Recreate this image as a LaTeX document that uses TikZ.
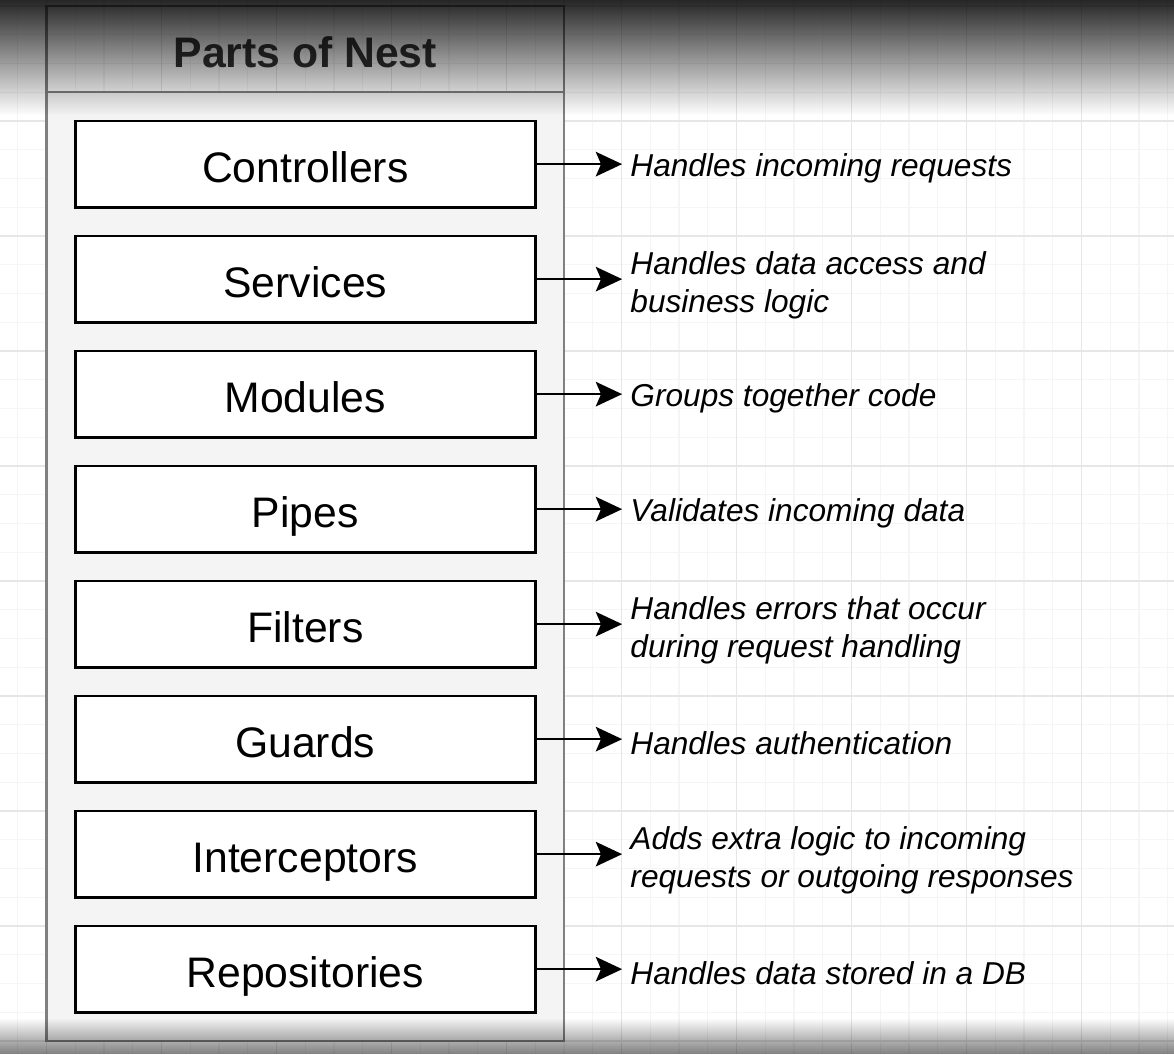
\documentclass[tikz,border=0pt]{standalone}
\usepackage{fontspec}
\setmainfont{Liberation Sans}
\usetikzlibrary{arrows.meta,fadings}
\definecolor{gridminor}{HTML}{F5F5F5}
\definecolor{gridmajor}{HTML}{E6E6E6}
\definecolor{lanefill}{HTML}{F4F4F4}
\definecolor{laneline}{HTML}{808080}
\begin{document}
\begin{tikzpicture}[
    x=0.575cm, y=-0.575cm,
    part/.style={rectangle,draw=black,line width=1.5pt,fill=white,
        minimum width=9.2cm,minimum height=1.725cm,outer sep=0pt,
        text height=22pt,text depth=1pt,
        font=\fontsize{24.3}{28}\selectfont},
    note/.style={anchor=west,align=left,inner sep=0pt,
        font=\fontsize{18}{21.6}\selectfont\itshape},
    link/.style={-{Stealth[length=15pt,width=14pt,inset=3pt]},line width=1.1pt}
]
\useasboundingbox (-1.617,-0.209) rectangle (39.217,36.452);
\fill[white] (-1.617,-0.209) rectangle (39.217,36.452);

% canvas grid
\foreach \i in {-1,...,39} \draw[gridminor,line width=0.6pt] (\i,-0.209) -- (\i,36.452);
\foreach \j in {0,...,36} \draw[gridminor,line width=0.6pt] (-1.617,\j) -- (39.217,\j);
\foreach \i in {0,4,...,36} \draw[gridmajor,line width=0.7pt] (\i,-0.209) -- (\i,36.452);
\foreach \j in {0,4,...,36} \draw[gridmajor,line width=0.7pt] (-1.617,\j) -- (39.217,\j);

% container
\fill[lanefill] (0,3) rectangle (18,36);
\draw[laneline,line width=1.2pt] (0,0) rectangle (18,36);
\draw[laneline,line width=1.2pt] (0,3) -- (18,3);
\node[font=\fontsize{24.3}{28}\selectfont\bfseries,text=black!80] (title) at (9,1.6) {Parts of Nest};

\node[part] (ctrl)  at (9,5.5)  {Controllers};
\node[part] (serv)  at (9,9.5)  {Services};
\node[part] (mods)  at (9,13.5) {Modules};
\node[part] (pipe)  at (9,17.5) {Pipes};
\node[part] (filt)  at (9,21.5) {Filters};
\node[part] (guard) at (9,25.5) {Guards};
\node[part] (icpt)  at (9,29.5) {Interceptors};
\node[part] (repo)  at (9,33.5) {Repositories};

\node[note] (ctrlN)  at (20.3,5.65)  {Handles incoming requests};
\node[note] (servN)  at (20.3,9.7)   {Handles data access and\\business logic};
\node[note] (modsN)  at (20.3,13.65) {Groups together code};
\node[note] (pipeN)  at (20.3,17.65) {Validates incoming data};
\node[note] (filtN)  at (20.3,21.7)  {Handles errors that occur\\during request handling};
\node[note] (guardN) at (20.3,25.65) {Handles authentication};
\node[note] (icptN)  at (20.3,29.7)  {Adds extra logic to incoming\\requests or outgoing responses};
\node[note] (repoN)  at (20.3,33.65) {Handles data stored in a DB};

\draw[link] (ctrl)  -- ([xshift=-0.16cm]ctrl -| ctrlN.west);
\draw[link] (serv)  -- ([xshift=-0.16cm]serv -| servN.west);
\draw[link] (mods)  -- ([xshift=-0.16cm]mods -| modsN.west);
\draw[link] (pipe)  -- ([xshift=-0.16cm]pipe -| pipeN.west);
\draw[link] (filt)  -- ([xshift=-0.16cm]filt -| filtN.west);
\draw[link] (guard) -- ([xshift=-0.16cm]guard -| guardN.west);
\draw[link] (icpt)  -- ([xshift=-0.16cm]icpt -| icptN.west);
\draw[link] (repo)  -- ([xshift=-0.16cm]repo -| repoN.west);

% screen shading top and bottom
\fill[black,opacity=0.85,path fading=south] (-1.617,-0.209) rectangle (39.217,3.8);
\fill[black,opacity=0.5,path fading=north] (-1.617,35.2) rectangle (39.217,36.452);
\end{tikzpicture}
\end{document}
